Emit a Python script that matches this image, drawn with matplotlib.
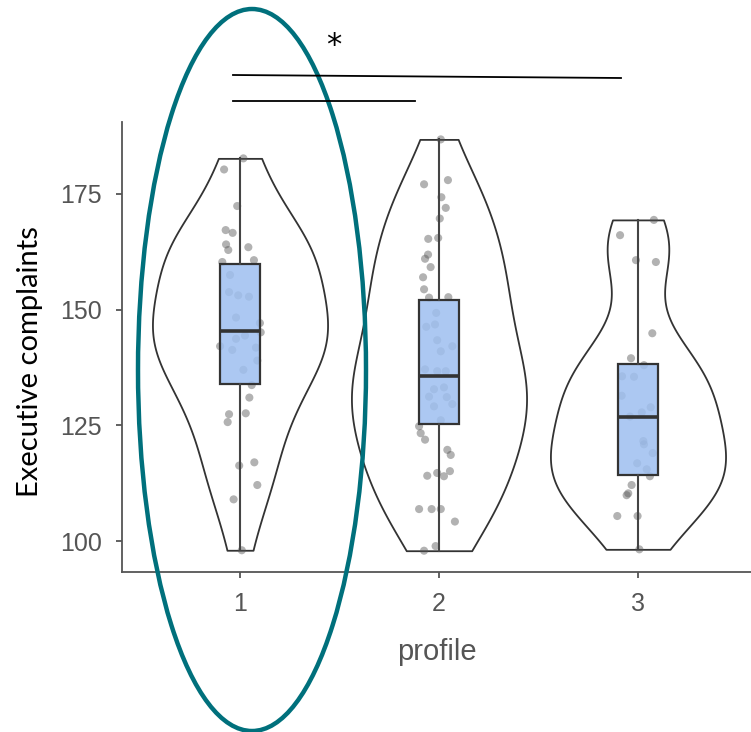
import numpy as np
import matplotlib.pyplot as plt
from matplotlib.patches import Ellipse
from matplotlib.lines import Line2D

# values
profiles = ['1', '2', '3']

p1_vals = [182.7, 180.3, 172.4, 167.2, 166.6, 164.1, 162.9, 163.5, 160.7, 160.3,
           157.5, 153.8, 153.1, 152.8, 148.3, 147.1, 145.1, 144.4, 143.7, 142.1,
           141.8, 141.3, 139.0, 137.0, 133.7, 131.0, 127.4, 127.6, 125.7, 116.3,
           117.0, 112.1, 109.0, 98.0]
p1_jit = [0.017, -0.080, -0.014, -0.072, -0.037, -0.070, -0.059, 0.042, 0.070, -0.089,
          -0.050, -0.055, -0.009, 0.045, -0.020, 0.100, 0.104, 0.025, -0.020, -0.100,
          0.080, -0.039, 0.087, 0.017, 0.059, 0.047, -0.055, 0.029, -0.062, -0.004,
          0.072, 0.087, -0.032, 0.009]

p2_vals = [186.8, 177.1, 178.0, 174.3, 172.0, 169.7, 165.3, 165.5, 161.9, 161.0,
           159.2, 157.0, 154.4, 152.6, 152.7, 149.3, 146.3, 146.8, 143.4, 142.1,
           141.0, 137.1, 136.7, 136.7, 132.8, 133.2, 131.2, 131.1, 129.6, 129.1,
           126.1, 124.8, 123.3, 121.9, 119.7, 118.6, 114.1, 114.7, 114.0, 115.1,
           106.9, 106.9, 106.9, 104.2, 97.9, 98.9]
p2_jit = [0.009, -0.075, 0.045, 0.012, 0.034, 0.004, -0.054, -0.004, -0.055, -0.070,
          -0.042, -0.080, -0.075, -0.050, 0.047, -0.014, -0.064, -0.020, -0.009, 0.067,
          0.009, -0.070, -0.009, 0.034, -0.025, 0.025, -0.050, 0.039, 0.067, -0.025,
          0.009, -0.100, -0.092, -0.070, 0.042, 0.059, -0.059, -0.009, 0.025, 0.055,
          -0.100, -0.037, 0.009, 0.080, -0.075, -0.017]

p3_vals = [169.4, 166.1, 160.7, 160.3, 144.9, 139.5, 138.0, 135.6, 135.5, 131.4,
           128.9, 127.8, 126.9, 121.6, 120.9, 119.0, 116.8, 115.5, 114.0, 112.1,
           110.3, 109.9, 105.4, 105.4, 98.2]
p3_jit = [0.080, -0.090, -0.010, 0.090, 0.072, -0.035, 0.030, -0.080, -0.020, -0.082,
          0.064, 0.019, -0.040, 0.027, 0.030, 0.074, -0.004, 0.044, 0.060, -0.032,
          -0.049, -0.057, -0.104, -0.002, 0.007]

# box statistics
q1s = [133.9, 125.2, 114.3]
medians = [145.4, 135.7, 126.9]
q3s = [159.8, 152.0, 138.2]
whis_lo = [98.0, 97.9, 98.2]
whis_hi = [182.7, 186.8, 169.4]

groups = [p1_vals, p2_vals, p3_vals]
jitters = [p1_jit, p2_jit, p3_jit]
pos = [1, 2, 3]


def nrd0(kde):
    # R's default bandwidth, as a factor of the sample sd
    d = np.ravel(kde.dataset)
    sd = np.std(d, ddof=1)
    iqr = np.subtract(*np.percentile(d, [75, 25]))
    bw = 0.9 * min(sd, iqr / 1.34) * len(d) ** (-0.2)
    return bw / sd


fig = plt.figure(figsize=(7.51, 7.32), dpi=100)
ax = fig.add_axes([122 / 751, 1 - 572 / 732, 629 / 751, 450 / 732])

vp = ax.violinplot(groups, positions=pos, widths=0.88, showextrema=False,
                   bw_method=nrd0, points=200)
for b in vp['bodies']:
    b.set_facecolor('white')
    b.set_alpha(1)
    b.set_edgecolor('#333333')
    b.set_linewidth(1.3)
    b.set_zorder(1)

for p, vals, jit in zip(pos, groups, jitters):
    ax.scatter(p + np.array(jit), vals, s=34, color='#555555', alpha=0.45,
               edgecolors='none', zorder=2)

stats = [dict(med=m, q1=a, q3=b, whislo=lo, whishi=hi, fliers=[])
         for m, a, b, lo, hi in zip(medians, q1s, q3s, whis_lo, whis_hi)]
ax.bxp(stats, positions=pos, widths=0.2, patch_artist=True, showcaps=False,
       boxprops=dict(facecolor=(0.62, 0.75, 0.94, 0.85), edgecolor='#333333', linewidth=1.6),
       whiskerprops=dict(color='#444444', linewidth=1.5),
       medianprops=dict(color='#333333', linewidth=2.6),
       zorder=3)

ax.set_xlim(0.407, 3.568)
ax.set_ylim(93.3, 190.56)
ax.set_yticks([100, 125, 150, 175])
ax.set_xticks(pos)
ax.set_xticklabels(profiles)
for s in ['top', 'right']:
    ax.spines[s].set_visible(False)
for s in ['left', 'bottom']:
    ax.spines[s].set_color('#555555')
    ax.spines[s].set_linewidth(1.3)
ax.tick_params(colors='#555555', labelsize=18, length=4.5, width=1.3, pad=10)
for lab in ax.get_xticklabels() + ax.get_yticklabels():
    lab.set_family('Liberation Sans')
ax.set_xlabel('profile', fontsize=21, color='#555555', labelpad=16,
              family='Liberation Sans')
ax.set_ylabel('Executive complaints', fontsize=21, color='black',
              family=['Lato', 'DejaVu Sans'])
ax.yaxis.set_label_coords(-0.126, 0.467)

# annotations drawn on top of the figure
fig.add_artist(Ellipse((252 / 751, 1 - 370 / 732), 228 / 751, 722 / 732,
                       transform=fig.transFigure, fill=False,
                       edgecolor='#00707c', linewidth=3.2))
fig.add_artist(Line2D([233 / 751, 621 / 751], [1 - 75 / 732, 1 - 78 / 732],
                      transform=fig.transFigure, color='black', linewidth=1.3))
fig.add_artist(Line2D([233 / 751, 415 / 751], [1 - 101 / 732, 1 - 101 / 732],
                      transform=fig.transFigure, color='black', linewidth=1.3))
fig.text(334 / 751, 1 - 45 / 732, '*', fontsize=22, ha='center', va='center')

fig.savefig('out.png', dpi=100)
